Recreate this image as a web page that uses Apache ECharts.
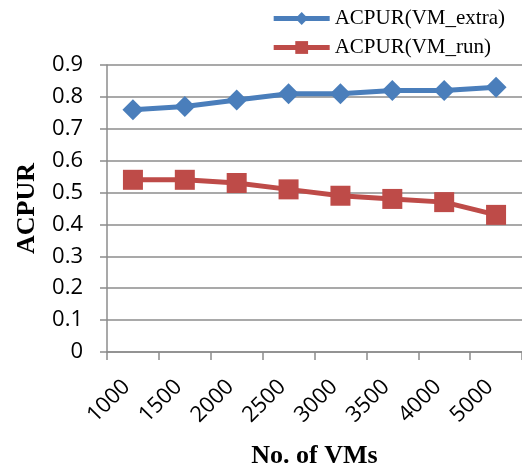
<!DOCTYPE html>
<html>
<head>
<meta charset="utf-8">
<script src="https://cdn.jsdelivr.net/npm/echarts@6/dist/echarts.min.js"></script>
<style>
  html, body { margin: 0; padding: 0; background: #fff; }
  #chart { width: 522px; height: 467px; }
</style>
</head>
<body>
<div id="chart"></div>
<script>
var vmCounts = ['1000', '1500', '2000', '2500', '3000', '3500', '4000', '5000'];
var acpurExtra = [0.76, 0.77, 0.79, 0.81, 0.81, 0.82, 0.82, 0.83];
var acpurRun = [0.54, 0.54, 0.53, 0.51, 0.49, 0.48, 0.47, 0.43];

var chartDom = document.getElementById('chart');
var myChart = echarts.init(chartDom);
var option;

option = {
  animation: false,
  grid: {
    left: 107,
    right: 0,
    top: 65,
    bottom: 115,
    containLabel: false,
    outerBoundsMode: 'none'
  },
  legend: {
    orient: 'vertical',
    right: 12,
    top: 3,
    itemWidth: 56,
    itemHeight: 16,
    itemGap: 8,
    lineStyle: { width: 5 },
    textStyle: {
      fontFamily: 'Liberation Serif',
      fontSize: 21,
      color: '#000'
    },
    data: ['ACPUR(VM_extra)', 'ACPUR(VM_run)']
  },
  xAxis: {
    type: 'category',
    data: vmCounts,
    name: 'No. of VMs',
    nameLocation: 'middle',
    nameGap: 91,
    nameTextStyle: {
      fontFamily: 'Liberation Serif',
      fontWeight: 'bold',
      fontSize: 26,
      color: '#000'
    },
    axisLine: { lineStyle: { color: '#8c8c8c', width: 1.5 } },
    axisTick: { show: true, length: 8, lineStyle: { color: '#8c8c8c', width: 1.5 } },
    axisLabel: {
      rotate: 45,
      margin: 25,
      padding: [0, 9, 0, 0],
      fontFamily: 'Open Sans',
      fontSize: 22,
      color: '#000'
    }
  },
  yAxis: {
    type: 'value',
    min: 0,
    max: 0.9,
    interval: 0.1,
    name: 'ACPUR',
    nameLocation: 'middle',
    nameGap: 67,
    nameTextStyle: {
      fontFamily: 'Liberation Serif',
      fontWeight: 'bold',
      fontSize: 26,
      color: '#000'
    },
    axisLine: { show: true, lineStyle: { color: '#8c8c8c', width: 1.5 } },
    axisTick: { show: true, length: 7, lineStyle: { color: '#8c8c8c', width: 1.5 } },
    axisLabel: {
      margin: 24,
      fontFamily: 'Open Sans',
      fontSize: 22,
      color: '#000',
      formatter: function (v) { return v === 0 ? '0' : v.toFixed(1); }
    },
    splitLine: { lineStyle: { color: '#8c8c8c', width: 1.5 } }
  },
  series: [
    {
      name: 'ACPUR(VM_extra)',
      type: 'line',
      data: acpurExtra,
      symbol: 'diamond',
      symbolSize: 21,
      itemStyle: { color: '#4a7ebb' },
      lineStyle: { color: '#4a7ebb', width: 5 }
    },
    {
      name: 'ACPUR(VM_run)',
      type: 'line',
      data: acpurRun,
      symbol: 'rect',
      symbolSize: 20,
      itemStyle: { color: '#be4b48' },
      lineStyle: { color: '#be4b48', width: 5 }
    }
  ]
};

option && myChart.setOption(option);
</script>
</body>
</html>
